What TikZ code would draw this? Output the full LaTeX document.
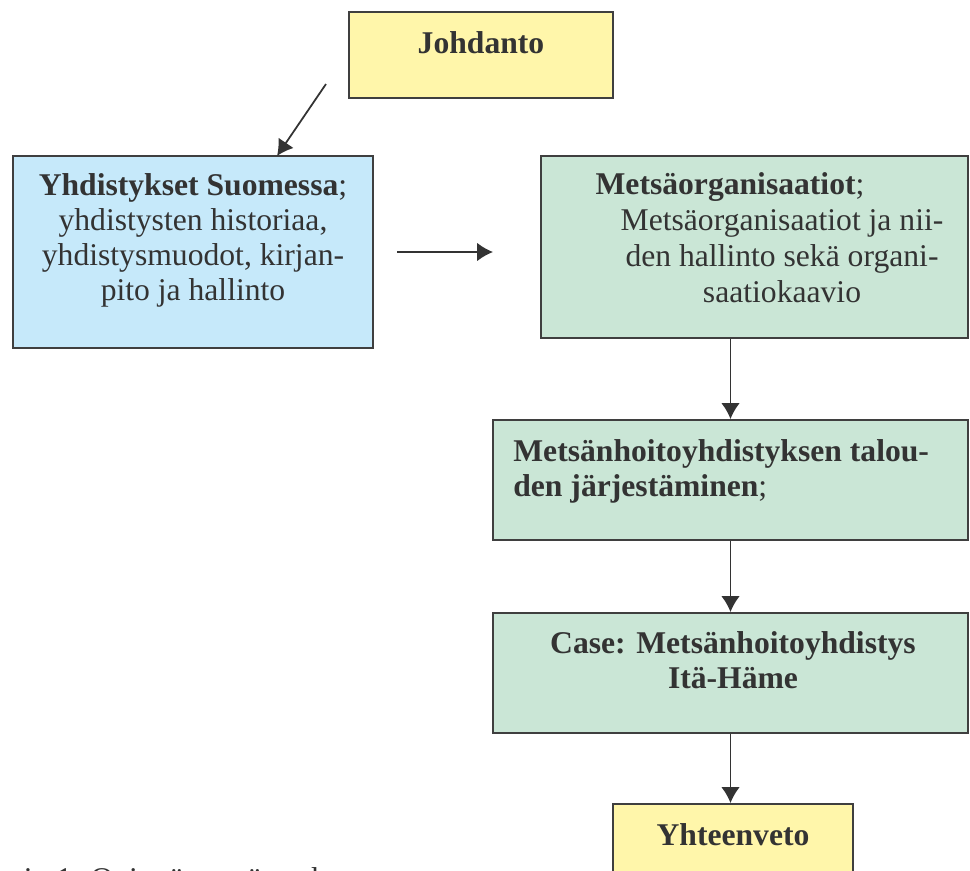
\documentclass[tikz,border=0pt]{standalone}
\usepackage{fontspec}
\setmainfont{Liberation Serif}
\usetikzlibrary{arrows.meta}
\definecolor{introyellow}{HTML}{FFF6AA}
\definecolor{yhdblue}{HTML}{C6E9FA}
\definecolor{orggreen}{HTML}{CAE6D6}
\definecolor{edgegray}{HTML}{3F3F3F}
\definecolor{inkgray}{HTML}{333333}
\begin{document}
\begin{tikzpicture}[every node/.style={text=inkgray, font=\fontsize{18}{19.8}\selectfont},
    box/.style={draw=edgegray, line width=1.1pt, inner sep=0pt},
    boxtext/.style={inner sep=0pt, anchor=north, align=center},
    arr/.style={->, >={Latex[length=9pt,width=10.5pt]}, draw=inkgray, line width=1pt}]
        \useasboundingbox (0,0) rectangle (19.4,-17.4);

        \node(intro) at (9.62,-1.10)[box, fill=introyellow, minimum width=5.28cm, minimum height=1.72cm]{};
        \node(yhd) at (3.86,-5.04)[box, fill=yhdblue, minimum width=7.2cm, minimum height=3.84cm]{};
        \node(org) at (15.09,-4.94)[box, fill=orggreen, minimum width=8.54cm, minimum height=3.64cm]{};
        \node(talous) at (14.61,-9.60)[box, fill=orggreen, minimum width=9.5cm, minimum height=2.4cm]{};
        \node(case) at (14.61,-13.46)[box, fill=orggreen, minimum width=9.5cm, minimum height=2.4cm]{};
        \node(summary) at (14.66,-16.94)[box, fill=introyellow, minimum width=4.8cm, minimum height=1.72cm]{};

        \node(introtext) at (9.62,-1.06)[anchor=base]{\textbf{Johdanto}};
        \node(yhdtext) at (3.86,-3.47)[boxtext]{\textbf{Yhdistykset Suomessa};\\yhdistysten historiaa,\\yhdistysmuodot, kirjan-\\pito ja hallinto};
        \node(orgtext) at (15.64,-3.45)[boxtext, font=\fontsize{18}{20.4}\selectfont]{\textbf{Metsäorganisaatiot};\hspace*{2.08cm}\\Metsäorganisaatiot ja nii-\\den hallinto sekä organi-\\saatiokaavio};
        \node(taloustext) at (10.26,-8.78)[boxtext, anchor=north west, align=left]{\textbf{Metsänhoitoyhdistyksen talou-}\\\textbf{den järjestäminen};};
        \node(casetext) at (14.66,-12.63)[boxtext]{\textbf{Case: Metsänhoitoyhdistys}\\\textbf{Itä-Häme}};
        \node(summarytext) at (14.66,-16.90)[anchor=base]{\textbf{Yhteenveto}};

        \node(caption) at (-0.62,-17.35)[inner sep=0pt, anchor=north west]{Kuvio 1. Opinnäytetyön rakenne};

        \coordinate(introfoot) at (6.52,-1.68);
        \coordinate(yhdin) at (5.54,-3.12);
        \coordinate(sidetail) at (7.94,-5.04);
        \coordinate(sidehead) at (9.86,-5.04);

        \draw[arr](introfoot) -- (yhdin);
        \draw[arr](sidetail) -- (sidehead);
        \draw[arr](org.south -| talous.north) -- (talous.north);
        \draw[arr](talous.south) -- (case.north);
        \draw[arr](case.south) -- (case.south |- summary.north);

    \end{tikzpicture}
\end{document}
